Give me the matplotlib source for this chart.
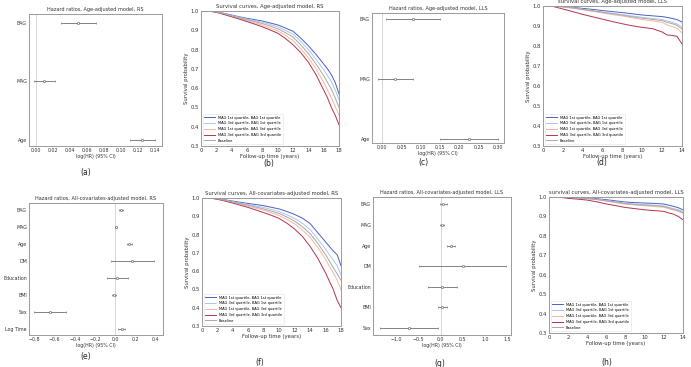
"""Hazard ratios and survival curves, age-adjusted and all-covariates models (RS / LLS)."""
import numpy as np
import matplotlib
matplotlib.use('Agg')
import matplotlib.pyplot as plt

W, H = 691, 367

# ---- forest plot data: (label, point, lower, upper) ----
a_labels = ['BAG', 'MAG', 'Age']
a_coef = [0.050, 0.010, 0.124]
a_lo = [0.029, -0.002, 0.110]
a_hi = [0.071, 0.023, 0.140]

c_labels = ['BAG', 'MAG', 'Age']
c_coef = [0.080, 0.032, 0.225]
c_lo = [0.009, -0.012, 0.150]
c_hi = [0.150, 0.079, 0.300]

e_labels = ['BAG', 'MAG', 'Age', 'DM', 'Education', 'BMI', 'Sex', 'Log Time']
e_coef = [0.06, 0.007, 0.14, 0.17, 0.02, -0.015, -0.65, 0.065]
e_lo = [0.04, -0.005, 0.12, -0.04, -0.08, -0.03, -0.807, 0.03]
e_hi = [0.08, 0.02, 0.17, 0.385, 0.13, 0.01, -0.49, 0.10]

g_labels = ['BAG', 'MAG', 'Age', 'DM', 'Education', 'BMI', 'Sex']
g_coef = [0.06, 0.02, 0.23, 0.50, 0.04, 0.04, -0.72]
g_lo = [-0.02, -0.02, 0.15, -0.50, -0.28, -0.05, -1.37]
g_hi = [0.15, 0.08, 0.32, 1.48, 0.38, 0.14, -0.05]

# ---- survival curves ----
legend_labels = ['MAG 1st quartile, BAG 1st quartile',
                 'MAG 3rd quartile, BAG 1st quartile',
                 'MAG 1st quartile, BAG 3rd quartile',
                 'MAG 3rd quartile, BAG 3rd quartile',
                 'Baseline']
curve_colors = ['#4b5fc2', '#a9c5f5', '#f5b99e', '#b5324f', '#a8a8a8']

t_rs = [0, 1, 2, 3, 4, 5, 6, 7, 8, 9, 10, 11, 12, 13, 14, 15, 16, 16.5, 17, 17.5, 18]
b_q1q1 = [1.0, 1.0, 0.995, 0.988, 0.979, 0.970, 0.962, 0.955, 0.948, 0.938, 0.928, 0.912, 0.895, 0.860, 0.820, 0.775, 0.725, 0.700, 0.670, 0.630, 0.570]
b_q3q1 = [1.0, 1.0, 0.995, 0.987, 0.977, 0.968, 0.958, 0.950, 0.942, 0.930, 0.918, 0.900, 0.880, 0.843, 0.800, 0.750, 0.695, 0.665, 0.635, 0.590, 0.540]
b_q1q3 = [1.0, 1.0, 0.994, 0.984, 0.973, 0.962, 0.950, 0.939, 0.927, 0.912, 0.897, 0.874, 0.847, 0.805, 0.758, 0.700, 0.630, 0.590, 0.550, 0.505, 0.460]
b_q3q3 = [1.0, 1.0, 0.993, 0.982, 0.970, 0.958, 0.945, 0.932, 0.918, 0.902, 0.885, 0.858, 0.825, 0.785, 0.735, 0.670, 0.590, 0.550, 0.500, 0.460, 0.410]
b_base = [1.0, 1.0, 0.994, 0.986, 0.975, 0.965, 0.955, 0.945, 0.935, 0.922, 0.908, 0.888, 0.865, 0.825, 0.780, 0.725, 0.665, 0.630, 0.595, 0.550, 0.500]

f_q1q1 = [1.0, 1.0, 0.996, 0.990, 0.983, 0.976, 0.970, 0.964, 0.958, 0.949, 0.940, 0.926, 0.910, 0.890, 0.860, 0.810, 0.760, 0.735, 0.710, 0.690, 0.630]
f_q3q1 = [1.0, 1.0, 0.995, 0.988, 0.980, 0.972, 0.964, 0.956, 0.948, 0.937, 0.925, 0.908, 0.888, 0.862, 0.828, 0.775, 0.720, 0.690, 0.660, 0.630, 0.580]
f_q1q3 = [1.0, 1.0, 0.994, 0.986, 0.976, 0.966, 0.955, 0.944, 0.933, 0.919, 0.904, 0.883, 0.858, 0.825, 0.785, 0.730, 0.665, 0.625, 0.590, 0.550, 0.500]
f_q3q3 = [1.0, 1.0, 0.993, 0.983, 0.972, 0.960, 0.948, 0.934, 0.920, 0.905, 0.888, 0.862, 0.830, 0.790, 0.735, 0.670, 0.590, 0.545, 0.500, 0.440, 0.400]
f_base = [1.0, 1.0, 0.995, 0.987, 0.978, 0.969, 0.960, 0.950, 0.940, 0.928, 0.915, 0.896, 0.873, 0.843, 0.805, 0.752, 0.690, 0.655, 0.620, 0.585, 0.550]

t_lls = [0, 1, 2, 3, 4, 5, 6, 7, 8, 9, 10, 11, 12, 12.5, 13, 13.5, 14]
d_q1q1 = [1.0, 0.999, 0.997, 0.993, 0.988, 0.983, 0.977, 0.972, 0.967, 0.961, 0.955, 0.951, 0.947, 0.943, 0.938, 0.932, 0.920]
d_q3q1 = [1.0, 0.999, 0.996, 0.991, 0.984, 0.977, 0.970, 0.963, 0.957, 0.950, 0.943, 0.938, 0.932, 0.925, 0.918, 0.910, 0.895]
d_q1q3 = [1.0, 0.999, 0.995, 0.989, 0.981, 0.973, 0.965, 0.957, 0.950, 0.941, 0.932, 0.926, 0.918, 0.905, 0.897, 0.890, 0.865]
d_q3q3 = [1.0, 0.998, 0.985, 0.972, 0.958, 0.946, 0.934, 0.922, 0.911, 0.901, 0.893, 0.887, 0.870, 0.855, 0.853, 0.848, 0.810]
d_base = [1.0, 0.999, 0.996, 0.990, 0.983, 0.976, 0.968, 0.961, 0.954, 0.946, 0.939, 0.933, 0.927, 0.918, 0.912, 0.903, 0.885]

h_q1q1 = [1.0, 1.0, 0.999, 0.997, 0.995, 0.991, 0.986, 0.980, 0.974, 0.971, 0.969, 0.967, 0.964, 0.958, 0.952, 0.945, 0.934]
h_q3q1 = [1.0, 1.0, 0.998, 0.996, 0.993, 0.988, 0.982, 0.975, 0.968, 0.964, 0.961, 0.958, 0.954, 0.947, 0.940, 0.935, 0.925]
h_q1q3 = [1.0, 1.0, 0.998, 0.995, 0.991, 0.986, 0.979, 0.971, 0.963, 0.959, 0.955, 0.951, 0.947, 0.940, 0.933, 0.927, 0.915]
h_q3q3 = [1.0, 1.0, 0.993, 0.989, 0.984, 0.975, 0.964, 0.955, 0.946, 0.940, 0.934, 0.930, 0.926, 0.918, 0.912, 0.900, 0.883]
h_base = [1.0, 1.0, 0.998, 0.995, 0.992, 0.987, 0.980, 0.973, 0.966, 0.961, 0.958, 0.955, 0.951, 0.944, 0.937, 0.930, 0.920]

plt.rcParams['font.family'] = 'DejaVu Sans'
fig = plt.figure(figsize=(W / 100, H / 100), dpi=100)
fig.patch.set_facecolor('white')

SPINE = '#9a9a9a'
TXT = '#333333'


def px_axes(left, right, top, bottom):
    """Create axes from pixel box (y measured from top)."""
    ax = fig.add_axes([left / W, 1 - bottom / H, (right - left) / W, (bottom - top) / H])
    for s in ax.spines.values():
        s.set_color(SPINE)
        s.set_linewidth(0.7)
    ax.tick_params(length=0, pad=1.5, labelsize=3.4, colors=TXT)
    return ax


def forest(ax, labels, coef, lo, hi, xlim, ylim, xticks, title):
    n = len(labels)
    ypos = np.arange(n)[::-1]
    coef = np.array(coef)
    err = [coef - np.array(lo), np.array(hi) - coef]
    ax.axvline(0, color='#d0d0d0', lw=0.6, zorder=1)
    ax.errorbar(coef, ypos, xerr=err, fmt='o', color='#6e6e6e', ms=1.6, mfc='white',
                mec='#555555', mew=0.4, elinewidth=0.6, capsize=0.8, capthick=0.4, zorder=3)
    ax.set_yticks(ypos)
    ax.set_yticklabels(labels)
    ax.set_xticks(xticks)
    ax.set_xlim(*xlim)
    ax.set_ylim(*ylim)
    ax.set_xlabel('log(HR) (95% CI)', fontsize=3.4, labelpad=1, color=TXT)
    ax.set_title(title, fontsize=3.6, pad=2, color=TXT)


def survival(ax, t, curves, xmax, title):
    for y, col, lab in zip(curves, curve_colors, legend_labels):
        ax.plot(t, y, color=col, lw=0.7, label=lab)
    ax.set_xlim(0, xmax)
    ax.set_ylim(0.3, 1.0)
    ax.set_xticks(np.arange(0, xmax + 1, 2))
    ax.set_yticks(np.arange(0.3, 1.01, 0.1))
    ax.tick_params(labelsize=3.8)
    ax.set_xlabel('Follow-up time (years)', fontsize=3.8, labelpad=0.5, color=TXT)
    ax.set_ylabel('Survival probability', fontsize=3.8, labelpad=1, color=TXT)
    ax.set_title(title, fontsize=3.8, pad=2, color=TXT)
    leg = ax.legend(loc='lower left', fontsize=2.6, frameon=True, handlelength=3,
                    borderpad=0.4, labelspacing=0.5, fancybox=False)
    leg.get_frame().set_edgecolor('#dddddd')
    leg.get_frame().set_linewidth(0.4)


# row 1
ax = px_axes(29, 162, 14, 146)
forest(ax, a_labels, a_coef, a_lo, a_hi, (-0.008, 0.148), (-0.1, 2.15),
       np.arange(0, 0.141, 0.02), 'Hazard ratios, Age-adjusted model, RS')

ax = px_axes(201, 339, 11, 146)
survival(ax, t_rs, [b_q1q1, b_q3q1, b_q1q3, b_q3q3, b_base], 18,
         'Survival curves, Age-adjusted model, RS')

ax = px_axes(372, 504, 13, 143)
forest(ax, c_labels, c_coef, c_lo, c_hi, (-0.027, 0.316), (-0.07, 2.1),
       np.arange(0, 0.301, 0.05), 'Hazard ratios, Age-adjusted model, LLS')

ax = px_axes(543, 682, 6, 146)
survival(ax, t_lls, [d_q1q1, d_q3q1, d_q1q3, d_q3q3, d_base], 14,
         'survival curves, Age-adjusted model, LLS')

# row 2
ax = px_axes(29, 163, 203, 335)
forest(ax, e_labels, e_coef, e_lo, e_hi, (-0.855, 0.475), (-0.37, 7.39),
       np.arange(-0.8, 0.41, 0.2), 'Hazard ratios, All-covariates-adjusted model, RS')

ax = px_axes(202, 341, 198, 326)
survival(ax, t_rs, [f_q1q1, f_q3q1, f_q1q3, f_q3q3, f_base], 18,
         'Survival curves, All-covariates-adjusted model, RS')

ax = px_axes(373, 511, 197, 335)
forest(ax, g_labels, g_coef, g_lo, g_hi, (-1.53, 1.59), (-0.34, 6.36),
       np.arange(-1.0, 1.51, 0.5), 'Hazard ratios, All-covariates-adjusted model, LLS')

ax = px_axes(549, 683, 197, 333)
survival(ax, t_lls, [h_q1q1, h_q3q1, h_q1q3, h_q3q3, h_base], 14,
         'survival curves, All-covariates-adjusted model, LLS')

# panel letters
for lab, x, y in [('(a)', 86, 173), ('(b)', 269, 164), ('(c)', 423, 163), ('(d)', 602, 163),
                  ('(e)', 86, 356), ('(f)', 260, 362), ('(g)', 440, 363), ('(h)', 607, 362)]:
    fig.text(x / W, 1 - y / H, lab, fontsize=5.5, ha='center', va='center', color='#222222')

fig.savefig('out.png', dpi=100)
